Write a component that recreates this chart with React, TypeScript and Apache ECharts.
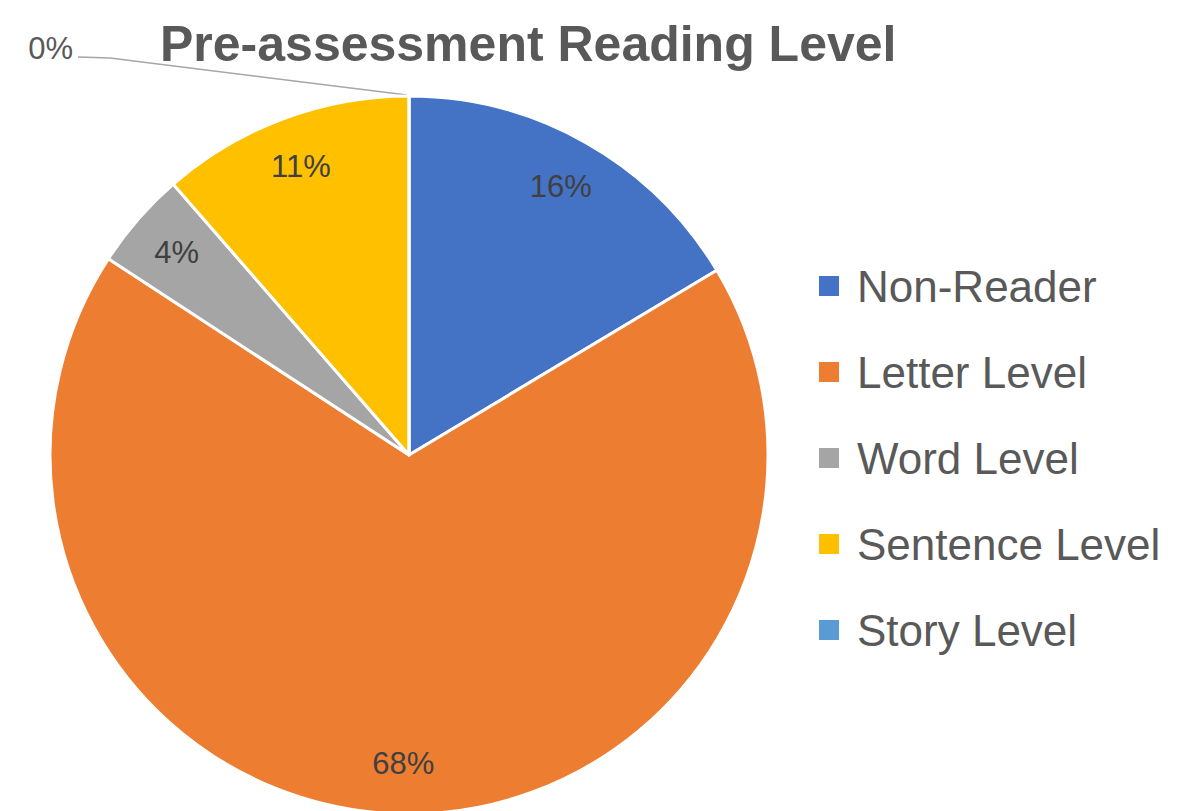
import React, { useEffect, useRef } from "react";
import * as echarts from "echarts";

const categories = ["Non-Reader", "Letter Level", "Word Level", "Sentence Level", "Story Level"];
const values = [16.4, 67.8, 4.4, 11.4, 0];
const colors = ["#4472C4", "#ED7D31", "#A5A5A5", "#FFC000", "#5B9BD5"];
const titleText = "Pre-assessment Reading Level";

const FONT = "'Liberation Sans', Arial, sans-serif";

export default function App() {
  const ref = useRef<HTMLDivElement>(null);
  useEffect(() => {
    if (!ref.current) return;
    const chart = echarts.init(ref.current, null, { renderer: "svg" });
    const center = [409, 455];
    const R = 359;
    const mainData = categories.map((name, i) => ({
      name,
      value: values[i],
      itemStyle: { color: colors[i] },
    }));
    const ghostData = categories.map((name, i) => {
      const item: any = {
        name,
        value: values[i],
        itemStyle: { color: "rgba(0,0,0,0)", borderWidth: 0 },
      };
      if (values[i] === 0) {
        item.label = { position: "outside", color: "#595959" };
        item.labelLine = { show: true, lineStyle: { color: "#A6A6A6", width: 1.5 } };
      }
      return item;
    });
    chart.setOption({
      animation: false,
      backgroundColor: "#ffffff",
      title: {
        text: titleText,
        left: 155,
        top: 14,
        textStyle: {
          fontFamily: FONT,
          fontSize: 50,
          fontWeight: "bold",
          color: "#595959",
          lineHeight: 50,
        },
      },
      legend: {
        orient: "vertical",
        left: 812,
        top: 259,
        itemWidth: 22,
        itemHeight: 22,
        itemGap: 42,
        icon: "rect",
        data: categories,
        selectedMode: false,
        textStyle: {
          fontFamily: FONT,
          fontSize: 44,
          lineHeight: 44,
          color: "#595959",
          padding: [0, 0, 0, 12],
        },
      },
      series: [
        {
          type: "pie",
          center,
          radius: [0, R],
          startAngle: 90,
          clockwise: true,
          silent: true,
          data: mainData,
          label: { show: false },
          labelLine: { show: false },
          itemStyle: { borderColor: "#ffffff", borderWidth: 3 },
          emphasis: { disabled: true },
        },
        {
          type: "pie",
          center,
          radius: [R * 0.7, R],
          startAngle: 90,
          clockwise: true,
          silent: true,
          data: ghostData,
          emphasis: { disabled: true },
          label: {
            show: true,
            position: "inside",
            fontFamily: FONT,
            fontSize: 31,
            color: "#404040",
            formatter: (p: any) => Math.round(p.percent) + "%",
          },
          labelLine: { show: false },
          labelLayout: (params: any) => {
            if (params.dataIndex === 4) {
              return {
                x: 73,
                y: 48,
                align: "right",
                verticalAlign: "middle",
                labelLinePoints: [
                  [78, 57],
                  [110, 58],
                  [407, 95],
                ],
              };
            }
            return {};
          },
        },
      ],
    });
    return () => chart.dispose();
  }, []);
  return (
    <div
      ref={ref}
      style={{ position: "fixed", left: 0, top: 0, width: 1180, height: 811 }}
    />
  );
}
